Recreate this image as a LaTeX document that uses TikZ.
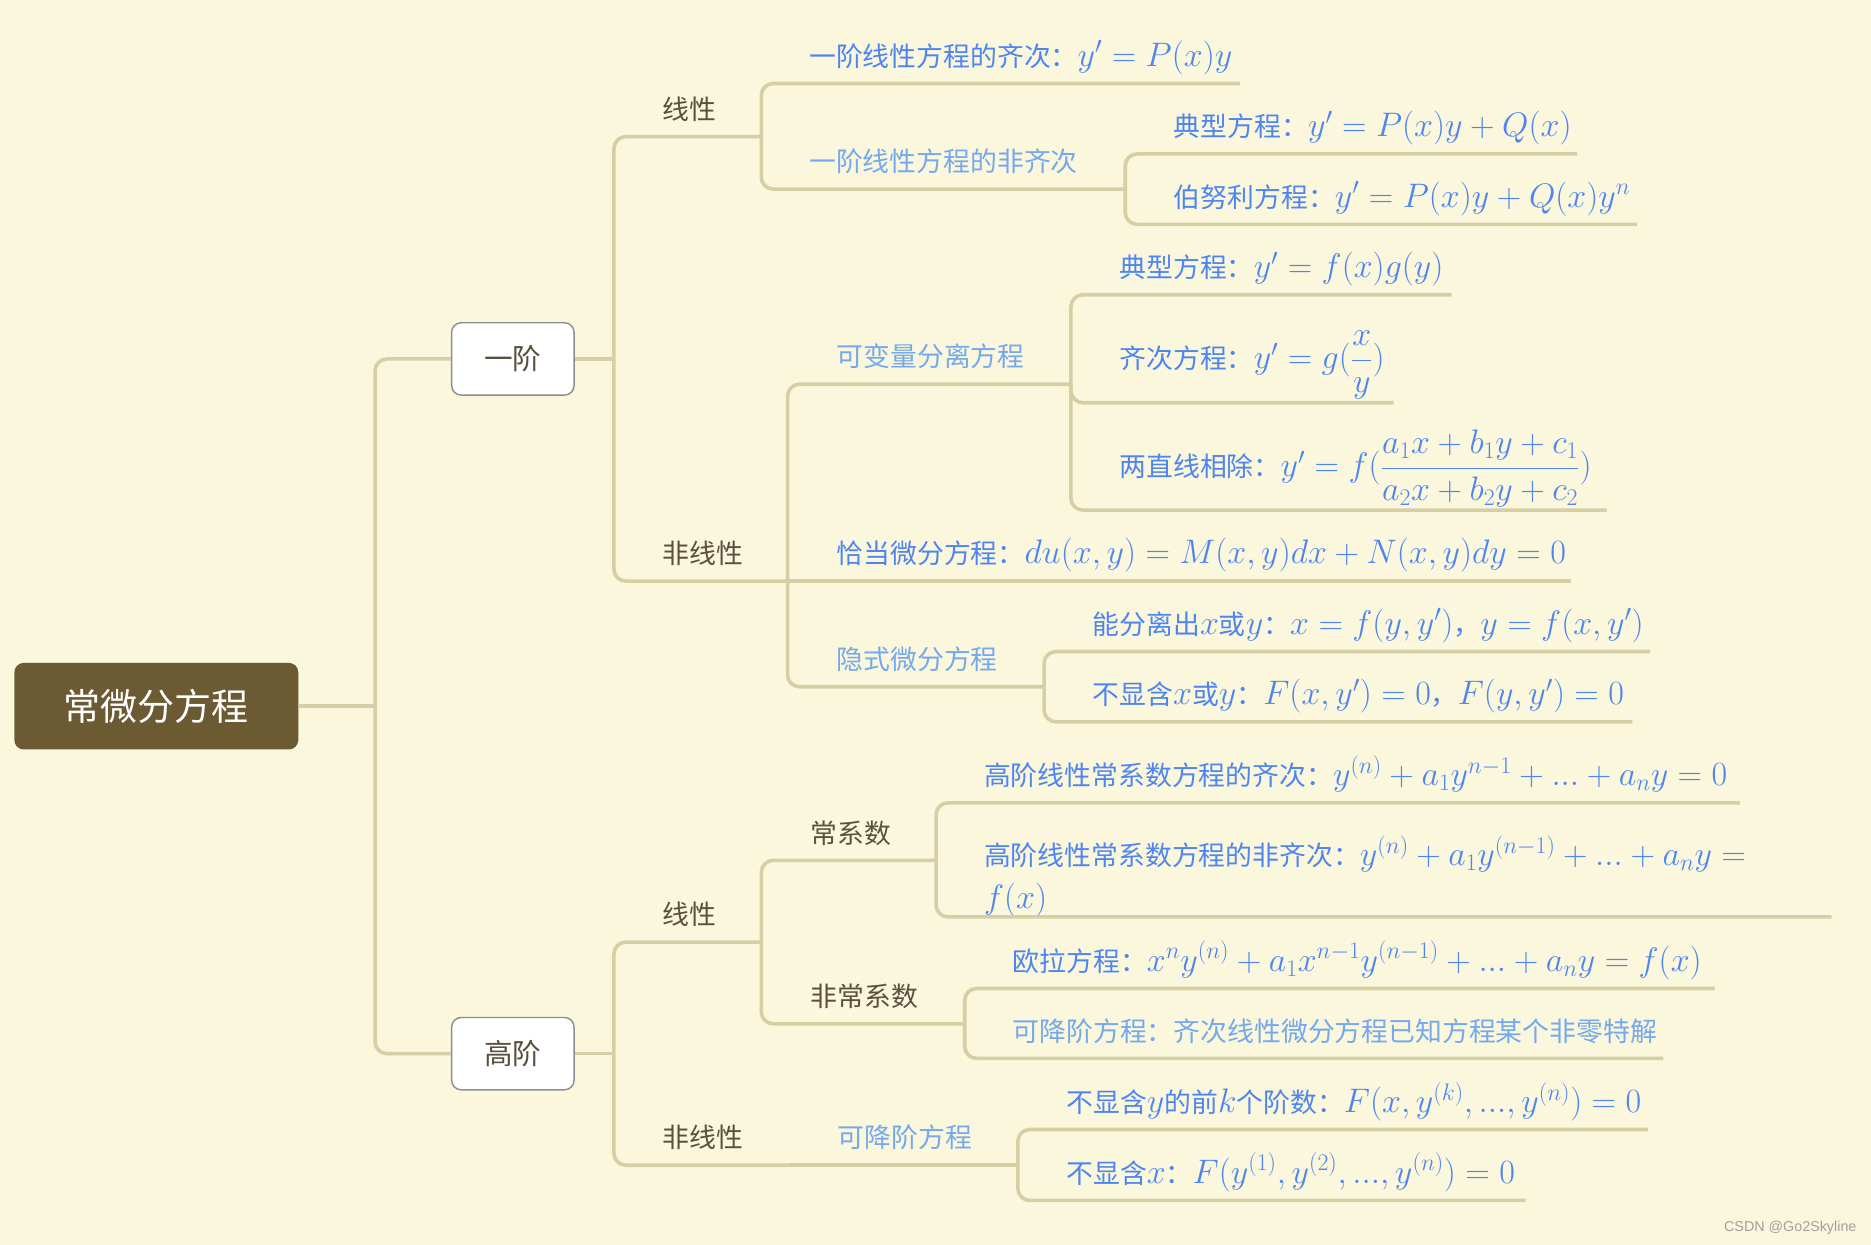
\RequirePackage{fix-cm}
\documentclass[tikz,border=0pt]{standalone}
\usepackage{amsmath}
\usepackage[no-math]{fontspec}
\newfontfamily\cjk{Noto Sans CJK SC}
\newfontfamily\wmfont{Liberation Sans}
\definecolor{bgcol}{HTML}{FAF7DC}
\definecolor{linecol}{HTML}{D6CFA5}
\definecolor{rootcol}{HTML}{6C5A33}
\definecolor{graytxt}{HTML}{5A5040}
\definecolor{blutxt}{HTML}{4E85F0}
\definecolor{ltblue}{HTML}{74A9EE}
\definecolor{boxline}{HTML}{8E8E92}
\definecolor{wmgray}{HTML}{A0A0A0}
\newcommand\mm[1]{{\fontsize{28.5}{36}\selectfont$#1$}}
\tikzset{
  branch/.style={draw=linecol, line width=3pt, rounded corners=10pt},
  rootbox/.style={fill=rootcol, rounded corners=8pt, text=white, minimum width=238pt, minimum height=72.6pt, font=\cjk\fontsize{31}{36}\selectfont},
  subbox/.style={draw=boxline, fill=white, line width=1.2pt, rounded corners=8pt, text=graytxt, minimum width=102.6pt, minimum height=60.6pt, font=\cjk\fontsize{24}{30}\selectfont},
  graylbl/.style={anchor=base west, inner sep=0pt, text=graytxt, font=\cjk\fontsize{22.5}{36}\selectfont},
  catlbl/.style={graylbl, text=ltblue},
  formula/.style={graylbl, text=blutxt},
}
\begin{document}
\begin{tikzpicture}[x=1pt, y=-1pt]
\fill[bgcol] (0,0) rectangle (1568,1043);
\useasboundingbox (0,0) rectangle (1568,1043);

% root and the two orders
\node[rootbox] (root) at (131,591.8) {常微分方程};
\node[subbox] (yijie) at (429.8,300.8) {一阶};
\node[subbox] (gaojie) at (429.8,883) {高阶};
\coordinate (root-j) at (314.3,591.8);
\coordinate (yijie-j) at (514.5,300.8);
\coordinate (gaojie-j) at (514.5,883);

\draw[branch] (root.east) -- (root-j);
\draw[branch] (root-j) |- (yijie.west);
\draw[branch] (root-j) |- (gaojie.west);
\draw[branch] (yijie.east) -- (yijie-j);
\draw[branch] (gaojie.east) -- (gaojie-j);

% first order
\node[graylbl] (y-xx) at (555,100) {线性};
\coordinate (y-xx-e) at (638,114.5);
\node[graylbl] (y-fx) at (555,472.5) {非线性};
\coordinate (y-fx-e) at (660,487);

\node[formula] (y-qc) at (678,55.5) {一阶线性方程的齐次：\mm{y'=P(x)y}};
\coordinate (y-qc-e) at (1039,70);
\node[catlbl] (y-fqc) at (678,144) {一阶线性方程的非齐次};
\coordinate (y-fqc-e) at (943,158.5);
\node[formula] (dx1) at (983.5,114.5) {典型方程：\mm{y'=P(x)y+Q(x)}};
\coordinate (dx1-e) at (1322,129);
\node[formula] (bnl) at (983.5,173.5) {伯努利方程：\mm{y'=P(x)y+Q(x)y^n}};
\coordinate (bnl-e) at (1372,188);

\node[catlbl] (kbl) at (701,307.5) {可变量分离方程};
\coordinate (kbl-e) at (897.5,322);
\node[formula] (dx2) at (938,232.5) {典型方程：\mm{y'=f(x)g(y)}};
\coordinate (dx2-e) at (1216.5,247);
\node[formula] (qcfc) at (938,309) {齐次方程：\mm{y'=g(\dfrac{x}{y})}};
\coordinate (qcfc-e) at (1168,337.5);
\node[formula] (lzx) at (938,399.5) {两直线相除：\mm{y'=f(\dfrac{a_1x+b_1y+c_1}{a_2x+b_2y+c_2})}};
\coordinate (lzx-e) at (1346.5,427.5);
\node[formula] (qd) at (701,472.5) {恰当微分方程：\mm{du(x,y)=M(x,y)dx+N(x,y)dy=0}};
\coordinate (qd-e) at (1316.5,487);
\node[catlbl] (ys) at (701,561) {隐式微分方程};
\coordinate (ys-e) at (875,575.5);
\node[formula] (fl) at (915.5,531.5) {能分离出\mm{x}或\mm{y}：\mm{x=f(y,y')}，\mm{y=f(x,y')}};
\coordinate (fl-e) at (1383,546);
\node[formula] (bh1) at (915.5,590.5) {不显含\mm{x}或\mm{y}：\mm{F(x,y')=0}，\mm{F(y,y')=0}};
\coordinate (bh1-e) at (1368,605);

\draw[branch] (yijie-j) |- (y-xx-e);
\draw[branch] (yijie-j) |- (y-fx-e);
\draw[branch] (y-xx-e) |- (y-qc-e);
\draw[branch] (y-xx-e) |- (y-fqc-e);
\draw[branch] (y-fqc-e) |- (dx1-e);
\draw[branch] (y-fqc-e) |- (bnl-e);
\draw[branch] (y-fx-e) |- (kbl-e);
\draw[branch] (y-fx-e) -- (qd-e);
\draw[branch] (y-fx-e) |- (ys-e);
\draw[branch] (kbl-e) |- (dx2-e);
\draw[branch] (kbl-e) |- (qcfc-e);
\draw[branch] (kbl-e) |- (lzx-e);
\draw[branch] (ys-e) |- (fl-e);
\draw[branch] (ys-e) |- (bh1-e);

% higher order
\node[graylbl] (g-xx) at (555,775) {线性};
\coordinate (g-xx-e) at (638,789.5);
\node[graylbl] (g-fx) at (555,962) {非线性};
\coordinate (g-fx-e) at (660,976.5);
\node[graylbl] (cxs) at (679,706.5) {常系数};
\coordinate (cxs-e) at (784.5,721);
\node[graylbl] (fcxs) at (679,843.5) {非常系数};
\coordinate (fcxs-e) at (808.5,858);

\node[formula] (gq) at (824.5,658.5) {高阶线性常系数方程的齐次：\mm{y^{(n)}+a_1y^{n-1}+...+a_ny=0}};
\coordinate (gq-e) at (1458,672.8);
\node[formula, align=left] (gfq) at (824.5,761.5) {高阶线性常系数方程的非齐次：\mm{y^{(n)}+a_1y^{(n-1)}+...+a_ny=}\\\mm{f(x)}};
\coordinate (gfq-e) at (1535,768.4);
\node[formula] (ol) at (848.5,814) {欧拉方程：\mm{x^ny^{(n)}+a_1x^{n-1}y^{(n-1)}+...+a_ny=f(x)}};
\coordinate (ol-e) at (1437,828.4);
\node[catlbl] (kjjl) at (848.5,872.5) {可降阶方程：齐次线性微分方程已知方程某个非零特解};
\coordinate (kjjl-e) at (1394,887);
\node[catlbl] (kjj) at (702,962) {可降阶方程};
\coordinate (kjj-e) at (853,976.5);
\node[formula] (bhy) at (893.5,932.5) {不显含\mm{y}的前\mm{k}个阶数：\mm{F(x,y^{(k)},...,y^{(n)})=0}};
\coordinate (bhy-e) at (1381,946.6);
\node[formula] (bhx) at (893.5,991.5) {不显含\mm{x}：\mm{F(y^{(1)},y^{(2)},...,y^{(n)})=0}};
\coordinate (bhx-e) at (1278.5,1006);

\draw[branch] (gaojie-j) |- (g-xx-e);
\draw[branch] (gaojie-j) |- (g-fx-e);
\draw[branch] (g-xx-e) |- (cxs-e);
\draw[branch] (g-xx-e) |- (fcxs-e);
\draw[branch] (cxs-e) |- (gq-e);
\draw[branch] (cxs-e) |- (gfq-e);
\draw[branch] (fcxs-e) |- (ol-e);
\draw[branch] (fcxs-e) |- (kjjl-e);
\draw[branch] (g-fx-e) -- (kjj-e);
\draw[branch] (kjj-e) |- (bhy-e);
\draw[branch] (kjj-e) |- (bhx-e);

\node[anchor=base east, inner sep=0pt, text=wmgray, font=\wmfont\fontsize{12}{14}\selectfont] (wm) at (1556,1032) {CSDN @Go2Skyline};
\end{tikzpicture}
\end{document}
